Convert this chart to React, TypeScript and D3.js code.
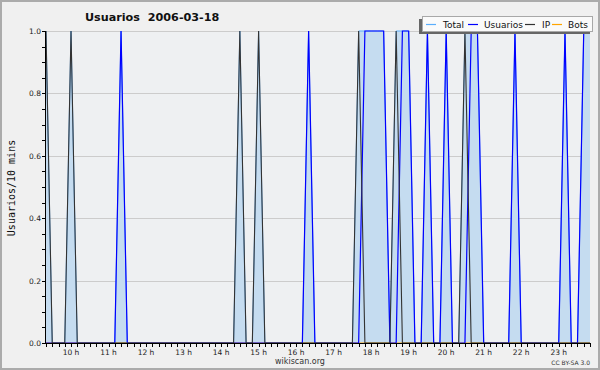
import React from 'react';
import * as d3 from 'd3';

const W = 600;
const H = 370;

// 10-minute slots starting at 9:20
const startMinute = 560;
const stepMinutes = 10;

const usuarios = [
  0, 0, 0, 0, 0, 0, 0, 0, 0, 0, 0, 0,
  1, 0, 0, 0, 0, 0, 0, 0, 0, 0, 0, 0,
  0, 0, 0, 0, 0, 0, 0, 0, 0, 0, 0, 0,
  0, 0, 0, 0, 0, 0, 1, 0, 0, 0, 0, 0,
  0, 0, 0, 1, 1, 1, 1, 0, 0, 1, 1, 0,
  0, 1, 0, 0, 1, 0, 0, 0, 1, 1, 0, 0,
  0, 0, 0, 1, 0, 0, 0, 0, 0, 0, 0, 1,
  0, 0, 1, 1,
];

const ip = [
  1, 0, 0, 0, 1, 0, 0, 0, 0, 0, 0, 0,
  0, 0, 0, 0, 0, 0, 0, 0, 0, 0, 0, 0,
  0, 0, 0, 0, 0, 0, 0, 1, 0, 0, 1, 0,
  0, 0, 0, 0, 0, 0, 0, 0, 0, 0, 0, 0,
  0, 0, 1, 0, 0, 0, 0, 0, 1, 0, 0, 0,
  0, 0, 0, 0, 0, 0, 0, 1, 0, 0, 0, 0,
  0, 0, 0, 0, 0, 0, 0, 0, 0, 0, 0, 0,
  0, 0, 0, 0,
];

const total = [
  1, 0, 0, 0, 1, 0, 0, 0, 0, 0, 0, 0,
  1, 0, 0, 0, 0, 0, 0, 0, 0, 0, 0, 0,
  0, 0, 0, 0, 0, 0, 0, 1, 0, 0, 1, 0,
  0, 0, 0, 0, 0, 0, 1, 0, 0, 0, 0, 0,
  0, 0, 1, 1, 1, 1, 1, 0, 1, 1, 1, 0,
  0, 1, 0, 0, 1, 0, 0, 1, 1, 1, 0, 0,
  0, 0, 0, 1, 0, 0, 0, 0, 0, 0, 0, 1,
  0, 0, 1, 1,
];

const bots = [
  0, 0, 0, 0, 0, 0, 0, 0, 0, 0, 0, 0,
  0, 0, 0, 0, 0, 0, 0, 0, 0, 0, 0, 0,
  0, 0, 0, 0, 0, 0, 0, 0, 0, 0, 0, 0,
  0, 0, 0, 0, 0, 0, 0, 0, 0, 0, 0, 0,
  0, 0, 0, 0, 0, 0, 0, 0, 0, 0, 0, 0,
  0, 0, 0, 0, 0, 0, 0, 0, 0, 0, 0, 0,
  0, 0, 0, 0, 0, 0, 0, 0, 0, 0, 0, 0,
  0, 0, 0, 0,
];

const hourLabels = [10, 11, 12, 13, 14, 15, 16, 17, 18, 19, 20, 21, 22, 23];
const yTickLabels = [0, 0.2, 0.4, 0.6, 0.8, 1.0];
const legendNames = ['Total', 'Usuarios', 'IP', 'Bots'];
const legendColors = ['#5aaefc', '#0000ff', '#333333', '#ffa500'];

const title = 'Usuarios  2006-03-18';
const yTitle = 'Usuarios/10 mins';

export default function App() {
  const left = 46;
  const right = 590;
  const top = 31;
  const bottom = 343;

  const endMinute = startMinute + (total.length - 1) * stepMinutes;
  const x = d3.scaleLinear().domain([startMinute, endMinute]).range([left, right]);
  const y = d3.scaleLinear().domain([0, 1]).range([bottom, top]);
  const xi = (i: number) => x(startMinute + i * stepMinutes);

  const area = d3
    .area<number>()
    .x((_, i) => xi(i))
    .y0(y(0))
    .y1((d) => y(d));
  const line = d3
    .line<number>()
    .x((_, i) => xi(i))
    .y((d) => y(d));

  const minorX = d3.range(startMinute, endMinute + 1, stepMinutes);
  const minorY = d3.range(0, 1.0001, 0.05);

  const legX = [426, 468, 525, 552];
  const legTextX = [443, 484, 542, 568];

  return (
    <svg
      width={W}
      height={H}
      style={{ position: 'fixed', left: 0, top: 0, display: 'block' }}
      fontFamily="DejaVu Sans, sans-serif"
    >
      <rect x={1} y={1} width={W - 2} height={H - 2} fill="#f0f0f0" stroke="#ababab" strokeWidth={2} />
      <rect x={left} y={top} width={right - left} height={bottom - top} fill="#eef0f2" />

      {yTickLabels.map((v) => (
        <line key={'g' + v} x1={left} x2={right} y1={Math.round(y(v)) + 0.5} y2={Math.round(y(v)) + 0.5} stroke="#cccccc" strokeWidth={1} />
      ))}

      <path d={area(total) || ''} fill="#c5dcf0" />
      <path d={line(total) || ''} fill="none" stroke={legendColors[0]} strokeWidth={1} />
      <path d={line(bots) || ''} fill="none" stroke={legendColors[3]} strokeWidth={1} />
      <path d={line(usuarios) || ''} fill="none" stroke={legendColors[1]} strokeWidth={1.2} />
      <path d={line(ip) || ''} fill="none" stroke={legendColors[2]} strokeWidth={1.1} />

      <line x1={left - 0.5} x2={right} y1={bottom + 0.5} y2={bottom + 0.5} stroke="#000" strokeWidth={1.2} />
      <line x1={left - 0.5} x2={left - 0.5} y1={top} y2={bottom + 0.5} stroke="#000" strokeWidth={1} />
      {minorX.map((m) => (
        <line key={'tx' + m} x1={Math.round(x(m)) + 0.5} x2={Math.round(x(m)) + 0.5} y1={bottom} y2={bottom + 4} stroke="#000" strokeWidth={1} />
      ))}
      {minorY.map((v) => (
        <line key={'ty' + v} x1={left - 4} x2={left} y1={Math.round(y(v)) + 0.5} y2={Math.round(y(v)) + 0.5} stroke="#000" strokeWidth={1} />
      ))}
      {yTickLabels.map((v) => (
        <text key={'yl' + v} x={41} y={y(v) + 3} fontSize={7.5} textAnchor="end" fill="#222">
          {v.toFixed(1)}
        </text>
      ))}
      {hourLabels.map((h) => (
        <text key={'xl' + h} x={x(h * 60)} y={354.5} fontSize={7.5} textAnchor="middle" fill="#222">
          {h + ' h'}
        </text>
      ))}

      <text x={85} y={21} fontSize={11.2} fontWeight="bold" fill="#111" xmlSpace="preserve">
        {title}
      </text>
      <text
        transform={`translate(15, 188) rotate(-90)`}
        textAnchor="middle"
        fontSize={10}
        fontFamily="DejaVu Sans Mono, monospace"
        fill="#111"
      >
        {yTitle}
      </text>
      <text x={300} y={364} fontSize={8} textAnchor="middle" fill="#333">
        wikiscan.org
      </text>
      <text x={590} y={365} fontSize={6} textAnchor="end" fill="#333">
        CC BY-SA 3.0
      </text>

      <rect x={419} y={19} width={171} height={15} fill="#666" />
      <rect x={422.5} y={16.5} width={170} height={15} fill="#fafafa" stroke="#a8a8a8" strokeWidth={1} />
      {legendNames.map((n, i) => (
        <g key={n}>
          <line x1={legX[i]} x2={legX[i] + 10} y1={24.5} y2={24.5} stroke={legendColors[i]} strokeWidth={1.2} />
          <text x={legTextX[i]} y={27.5} fontSize={9} fill="#111">
            {n}
          </text>
        </g>
      ))}
    </svg>
  );
}
